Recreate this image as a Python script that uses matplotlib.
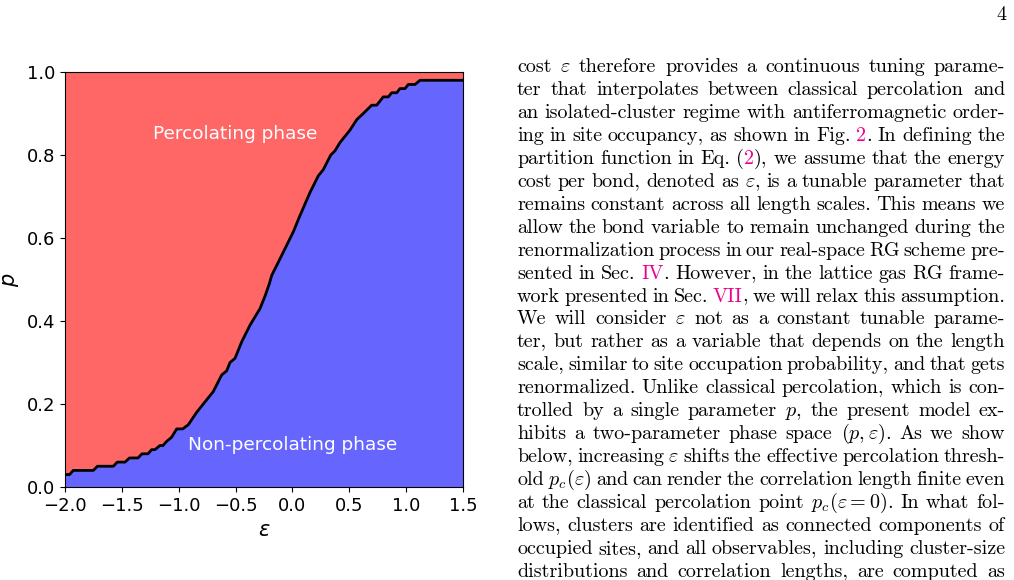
import re
import matplotlib
matplotlib.use("Agg")
import matplotlib.pyplot as plt

# phase boundary p_c(eps)
eps = [-2.000, -1.960, -1.927, -1.751, -1.714, -1.575, -1.540, -1.472, -1.433,
       -1.358, -1.323, -1.270, -1.238, -1.209, -1.165, -1.138, -1.106, -1.062,
       -1.018, -0.965, -0.916, -0.842, -0.784, -0.696, -0.622, -0.578, -0.549,
       -0.505, -0.446, -0.373, -0.285, -0.241, -0.203, -0.182, -0.109, 0.008,
       0.060, 0.155, 0.228, 0.272, 0.337, 0.374, 0.418, 0.506, 0.565, 0.623,
       0.697, 0.741, 0.799, 0.843, 0.873, 0.917, 0.946, 0.990, 1.019, 1.078,
       1.122, 1.500]
p_c = [0.03, 0.03, 0.04, 0.04, 0.05, 0.05, 0.06, 0.06, 0.07,
       0.07, 0.08, 0.08, 0.09, 0.09, 0.10, 0.10, 0.11, 0.12,
       0.14, 0.14, 0.15, 0.18, 0.20, 0.23, 0.27, 0.28, 0.30,
       0.31, 0.35, 0.39, 0.43, 0.46, 0.49, 0.51, 0.55, 0.615,
       0.65, 0.71, 0.75, 0.765, 0.80, 0.81, 0.83, 0.86, 0.885, 0.90,
       0.92, 0.92, 0.94, 0.94, 0.95, 0.95, 0.96, 0.96, 0.97, 0.97,
       0.98, 0.98]

xticks = [-2.0, -1.5, -1.0, -0.5, 0.0, 0.5, 1.0, 1.5]
yticks = [0.0, 0.2, 0.4, 0.6, 0.8, 1.0]

# text column of the page; [..] marks a hyperlink (magenta)
body_lines = [
    r"cost $\varepsilon$ therefore provides a continuous tuning parame-",
    r"ter that interpolates between classical percolation and",
    r"an isolated-cluster regime with antiferromagnetic order-",
    r"ing in site occupancy, as shown in Fig. [2]. In defining the",
    r"partition function in Eq. ([2]), we assume that the energy",
    r"cost per bond, denoted as $\varepsilon$, is a tunable parameter that",
    r"remains constant across all length scales. This means we",
    r"allow the bond variable to remain unchanged during the",
    r"renormalization process in our real-space RG scheme pre-",
    r"sented in Sec. [IV]. However, in the lattice gas RG frame-",
    r"work presented in Sec. [VII], we will relax this assumption.",
    r"We will consider $\varepsilon$ not as a constant tunable parame-",
    r"ter, but rather as a variable that depends on the length",
    r"scale, similar to site occupation probability, and that gets",
    r"renormalized. Unlike classical percolation, which is con-",
    r"trolled by a single parameter $p$, the present model ex-",
    r"hibits a two-parameter phase space $(p,\varepsilon)$. As we show",
    r"below, increasing $\varepsilon$ shifts the effective percolation thresh-",
    r"old $p_c(\varepsilon)$ and can render the correlation length finite even",
    r"at the classical percolation point $p_c(\varepsilon=0)$. In what fol-",
    r"lows, clusters are identified as connected components of",
    r"occupied sites, and all observables, including cluster-size",
    r"distributions and correlation lengths, are computed as",
]

W, H = 1014, 580
LINK = "#EC008C"
BODY_SIZE = 14.5

fig = plt.figure(figsize=(W / 100, H / 100), dpi=100)

# ---- phase diagram ----
ax = fig.add_axes([65 / W, (H - 487) / H, 398 / W, 415 / H])
ax.fill_between(eps, p_c, 1.0, color="red", alpha=0.6, linewidth=0)
ax.fill_between(eps, 0.0, p_c, color="blue", alpha=0.6, linewidth=0)
ax.plot(eps, p_c, color="black", linewidth=2)
ax.set_xlim(-2.0, 1.5)
ax.set_ylim(0.0, 1.0)
ax.set_xticks(xticks)
ax.set_yticks(yticks)
ax.tick_params(labelsize=13)
ax.text(-0.5, 0.85, "Percolating phase", color="white", fontsize=13.3,
        ha="center", va="center")
ax.text(0.0, 0.10, "Non-percolating phase", color="white", fontsize=13.3,
        ha="center", va="center")
ax.set_xlabel(r"$\varepsilon$", fontsize=15, math_fontfamily="dejavusans")
ax.set_ylabel(r"$p$", fontsize=15, math_fontfamily="dejavusans")

# ---- text column, justified word by word ----
renderer = fig.canvas.get_renderer()
x_left, x_right = 517, 1005
for i, line in enumerate(body_lines):
    y = 1 - (72 + i * 22.95) / H
    words = []
    for word in line.split(" "):
        segs = []
        for part in re.split(r"(\[[^\]]*\])", word):
            if not part:
                continue
            color = "black"
            if part.startswith("["):
                part, color = part[1:-1], LINK
            t = fig.text(0, y, part, color=color, family="cmr10",
                         fontsize=BODY_SIZE, va="baseline",
                         math_fontfamily="cm")
            segs.append((t, t.get_window_extent(renderer).width))
        words.append(segs)
    widths = [sum(w for _, w in segs) for segs in words]
    gap = (x_right - x_left - sum(widths)) / max(len(words) - 1, 1)
    x = x_left
    for segs, ww in zip(words, widths):
        xs = x
        for t, w in segs:
            t.set_x(xs / W)
            xs += w
        x += ww + gap

fig.text(1006 / W, 1 - 20 / H, "4", family="cmr10", fontsize=BODY_SIZE,
         ha="right", va="baseline")

fig.savefig("out.png", dpi=100)
